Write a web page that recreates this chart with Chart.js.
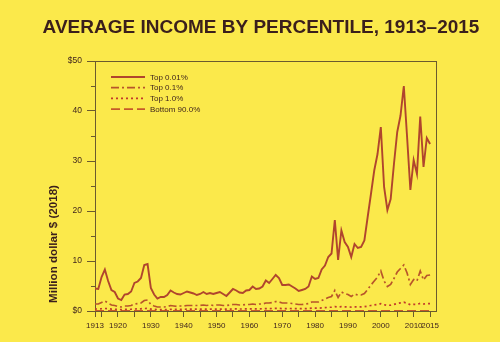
<!DOCTYPE html>
<html>
<head>
<meta charset="utf-8">
<title>Average income by percentile, 1913–2015</title>
<script src="https://cdn.jsdelivr.net/npm/chart.js@4.4.1/dist/chart.umd.min.js"></script>
<style>
  html, body { margin: 0; padding: 0; background: #fbe94b; }
  canvas { display: block; }
</style>
</head>
<body>
<canvas id="incomeChart" width="500" height="342"></canvas>
<script>
// Years 1913..2015, one value per year (million 2018 dollars)
const firstYear = 1913;
const lastYear = 2015;

const top001 = [
  4.5, 4.4, 6.8, 8.3, 6.0, 4.2, 3.8, 2.5, 2.2, 3.3,   // 1913-1922
  3.4, 3.9, 5.6, 5.9, 6.6, 9.2, 9.4, 4.6, 3.3, 2.5,   // 1923-1932
  2.8, 2.8, 3.2, 4.1, 3.7, 3.4, 3.3, 3.6, 3.9, 3.7,   // 1933-1942
  3.5, 3.2, 3.4, 3.8, 3.4, 3.6, 3.4, 3.6, 3.8, 3.4,   // 1943-1952
  3.0, 3.7, 4.4, 4.1, 3.7, 3.6, 4.1, 4.2, 4.9, 4.4,   // 1953-1962
  4.5, 4.9, 6.1, 5.6, 6.4, 7.2, 6.6, 5.2, 5.2, 5.3,   // 1963-1972
  4.9, 4.5, 4.0, 4.2, 4.4, 4.9, 6.9, 6.4, 6.6, 8.3,   // 1973-1982
  9.1, 10.8, 11.5, 18.2, 10.2, 16.1, 13.8, 12.8, 10.8, 13.4, // 1983-1992
  12.6, 12.8, 14.1, 18.8, 23.4, 28.1, 31.4, 36.8, 24.8, 20.2, // 1993-2002
  22.4, 29.4, 35.8, 39.1, 45.0, 34.8, 24.2, 30.2, 27.4, 38.9, // 2003-2012
  28.8, 34.6, 33.4                                     // 2013-2015
];

const top01 = [
  1.4, 1.4, 1.7, 2.0, 1.6, 1.2, 1.1, 0.9, 0.8, 1.0,
  1.0, 1.1, 1.4, 1.5, 1.6, 2.1, 2.2, 1.3, 1.0, 0.8,
  0.8, 0.8, 0.9, 1.1, 1.0, 0.9, 1.0, 1.0, 1.1, 1.1,
  1.1, 1.1, 1.1, 1.2, 1.1, 1.2, 1.1, 1.2, 1.2, 1.1,
  1.1, 1.2, 1.3, 1.3, 1.2, 1.2, 1.3, 1.3, 1.4, 1.3,
  1.4, 1.4, 1.6, 1.6, 1.7, 1.9, 1.8, 1.6, 1.6, 1.6,
  1.5, 1.4, 1.3, 1.3, 1.4, 1.5, 1.8, 1.8, 1.8, 2.1,
  2.4, 2.7, 2.9, 4.1, 2.7, 3.8, 3.5, 3.3, 2.9, 3.4,
  3.2, 3.2, 3.5, 4.3, 5.2, 6.0, 6.8, 8.0, 6.0, 4.9,
  5.3, 6.5, 7.8, 8.5, 9.2, 7.6, 5.3, 6.3, 6.0, 8.0,
  6.2, 7.1, 7.2
];

const top1 = [
  0.40, 0.40, 0.45, 0.50, 0.45, 0.38, 0.35, 0.30, 0.28, 0.32,
  0.33, 0.35, 0.40, 0.42, 0.44, 0.50, 0.52, 0.38, 0.32, 0.28,
  0.28, 0.29, 0.30, 0.34, 0.33, 0.32, 0.33, 0.34, 0.36, 0.36,
  0.36, 0.36, 0.37, 0.38, 0.37, 0.38, 0.37, 0.39, 0.39, 0.38,
  0.38, 0.39, 0.41, 0.41, 0.40, 0.40, 0.42, 0.42, 0.44, 0.43,
  0.44, 0.45, 0.48, 0.48, 0.50, 0.53, 0.52, 0.49, 0.49, 0.50,
  0.49, 0.48, 0.46, 0.47, 0.48, 0.50, 0.56, 0.56, 0.57, 0.62,
  0.67, 0.73, 0.77, 0.88, 0.78, 0.86, 0.84, 0.82, 0.78, 0.82,
  0.80, 0.81, 0.86, 0.98, 1.10, 1.22, 1.32, 1.45, 1.25, 1.12,
  1.17, 1.32, 1.50, 1.62, 1.75, 1.55, 1.25, 1.35, 1.32, 1.52,
  1.40, 1.45, 1.47
];

const bottom90 = [
  0.010, 0.010, 0.011, 0.012, 0.012, 0.012, 0.013, 0.012, 0.011, 0.012,
  0.013, 0.013, 0.014, 0.014, 0.014, 0.014, 0.015, 0.014, 0.013, 0.011,
  0.011, 0.012, 0.013, 0.014, 0.015, 0.014, 0.015, 0.016, 0.018, 0.020,
  0.022, 0.023, 0.022, 0.021, 0.020, 0.021, 0.021, 0.022, 0.023, 0.023,
  0.024, 0.024, 0.025, 0.026, 0.026, 0.026, 0.027, 0.027, 0.028, 0.028,
  0.029, 0.030, 0.031, 0.032, 0.032, 0.033, 0.034, 0.034, 0.034, 0.035,
  0.035, 0.034, 0.034, 0.034, 0.035, 0.035, 0.035, 0.034, 0.033, 0.033,
  0.033, 0.034, 0.034, 0.034, 0.034, 0.034, 0.034, 0.034, 0.033, 0.033,
  0.033, 0.033, 0.033, 0.034, 0.034, 0.035, 0.036, 0.037, 0.037, 0.036,
  0.036, 0.036, 0.036, 0.036, 0.036, 0.035, 0.034, 0.034, 0.034, 0.035,
  0.035, 0.035, 0.036
];

const seriesNames = ['Top 0.01%', 'Top 0.1%', 'Top 1.0%', 'Bottom 90.0%'];
const xTickYears = [1913, 1915, 1920, 1925, 1930, 1935, 1940, 1945, 1950, 1955, 1960,
                    1965, 1970, 1975, 1980, 1985, 1990, 1995, 2000, 2005, 2010, 2015];
const xLabelYears = [1913, 1920, 1930, 1940, 1950, 1960, 1970, 1980, 1990, 2000, 2010, 2015];
const yLabels = { 0: '$0', 10: '10', 20: '20', 30: '30', 40: '40', 50: '$50' };

const titleText = 'AVERAGE INCOME BY PERCENTILE, 1913–2015';
const yTitleText = 'Million dollar $ (2018)';

const axisColor = '#6b5a2e';
const inkColor = '#3a1f1c';
const fontFamily = '"Liberation Sans", Arial, Helvetica, sans-serif';

const years = [];
for (let y = firstYear; y <= lastYear; y++) years.push(y);
const toPoints = arr => arr.map((v, i) => ({ x: years[i], y: v }));

// box around the plot area (top and right edges)
const frame = {
  id: 'frame',
  beforeDatasetsDraw(chart) {
    const { ctx, chartArea: a } = chart;
    ctx.save();
    ctx.strokeStyle = axisColor;
    ctx.lineWidth = 1;
    ctx.strokeRect(Math.round(a.left) + 0.5, Math.round(a.top) + 0.5,
                   Math.round(a.right - a.left), Math.round(a.bottom - a.top));
    ctx.restore();
  }
};

// main title, rotated y title, and the line legend inside the plot
const labels = {
  id: 'labels',
  afterDraw(chart) {
    const { ctx, chartArea: a } = chart;
    ctx.save();
    ctx.fillStyle = inkColor;
    ctx.font = 'bold 19px ' + fontFamily;
    ctx.textAlign = 'center';
    ctx.textBaseline = 'alphabetic';
    ctx.fillText(titleText, 261, 32.5);

    ctx.translate(57, 244);
    ctx.rotate(-Math.PI / 2);
    ctx.font = 'bold 11.6px ' + fontFamily;
    ctx.fillText(yTitleText, 0, 0);
    ctx.restore();

    ctx.save();
    ctx.font = '8px ' + fontFamily;
    ctx.textAlign = 'left';
    ctx.textBaseline = 'middle';
    chart.data.datasets.forEach((ds, i) => {
      const rowY = a.top + 16 + i * 10.7;
      const x0 = a.left + 16;
      ctx.beginPath();
      ctx.strokeStyle = ds.borderColor;
      ctx.lineWidth = ds.borderWidth;
      ctx.setLineDash(ds.borderDash || []);
      ctx.moveTo(x0, rowY);
      ctx.lineTo(x0 + 34, rowY);
      ctx.stroke();
      ctx.setLineDash([]);
      ctx.fillStyle = inkColor;
      ctx.fillText(ds.label, x0 + 39, rowY + 0.5);
    });
    ctx.restore();
  }
};

const lineSet = (label, data, color, dash, width) => ({
  label: label,
  data: toPoints(data),
  borderColor: color,
  borderWidth: width,
  borderDash: dash,
  pointRadius: 0,
  tension: 0,
  fill: false
});

new Chart(document.getElementById('incomeChart'), {
  type: 'line',
  data: {
    datasets: [
      lineSet(seriesNames[0], top001, '#b0452d', [], 1.9),
      lineSet(seriesNames[1], top01, '#b8552a', [8, 3, 2, 3], 1.7),
      lineSet(seriesNames[2], top1, '#c23a2a', [2, 3], 1.7),
      lineSet(seriesNames[3], bottom90, '#c65a2a', [9, 4], 1.7)
    ]
  },
  options: {
    responsive: false,
    animation: false,
    layout: { padding: { top: 61, right: 64, left: 0, bottom: 0 } },
    plugins: {
      legend: { display: false },
      title: { display: false },
      tooltip: { enabled: false }
    },
    scales: {
      x: {
        type: 'linear',
        min: firstYear,
        max: 2016.8,
        afterBuildTicks: scale => { scale.ticks = xTickYears.map(v => ({ value: v })); },
        afterFit: scale => { scale.height = 31; },
        ticks: {
          autoSkip: false,
          maxRotation: 0,
          padding: 4,
          color: inkColor,
          font: { size: 8, family: fontFamily },
          callback: v => xLabelYears.includes(v) ? String(v) : ''
        },
        grid: { drawOnChartArea: false, drawTicks: true, tickLength: 6, color: axisColor },
        border: { display: true, color: axisColor, width: 1 }
      },
      y: {
        min: 0,
        max: 50,
        afterFit: scale => { scale.width = 95; },
        ticks: {
          stepSize: 5,
          padding: 5,
          color: inkColor,
          font: { size: 8.5, family: fontFamily },
          callback: v => (v in yLabels) ? yLabels[v] : ''
        },
        grid: {
          drawOnChartArea: false,
          drawTicks: true,
          tickLength: 8,
          color: axisColor,
          // shorter marks on the in-between ticks
          tickBorderDash: ctx => (ctx.tick && ctx.tick.value % 10 !== 0) ? [0, 4, 4, 0] : []
        },
        border: { display: true, color: axisColor, width: 1 }
      }
    }
  },
  plugins: [frame, labels]
});
</script>
</body>
</html>
